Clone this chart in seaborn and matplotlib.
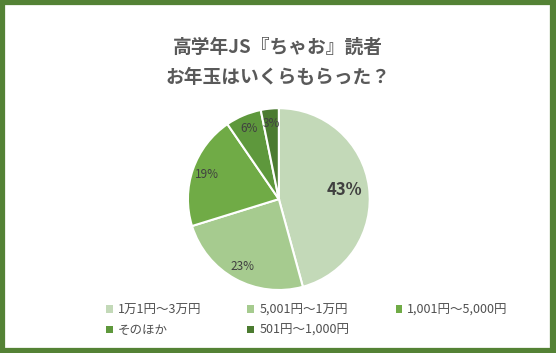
import numpy as np
import matplotlib
matplotlib.use("Agg")
import matplotlib.pyplot as plt
from matplotlib.patches import Patch, Rectangle
import seaborn as sns

# data
labels = ["1万1円～3万円", "5,001円～1万円", "1,001円～5,000円", "そのほか", "501円～1,000円"]
values = [43, 23, 19, 6, 3]
colors = ["#c3d9b8", "#a6cb8f", "#70ab46", "#5e983c", "#4b7b30"]
title = "高学年JS『ちゃお』読者\nお年玉はいくらもらった？"

sns.set_theme(style="white")
plt.rcParams['font.family'] = ['Noto Sans CJK JP', 'DejaVu Sans']

fig = plt.figure(figsize=(5.56, 3.53), dpi=100)
fig.patch.set_facecolor("white")

# green frame
fig.patches.append(Rectangle((0.004, 0.006), 0.990, 0.988, transform=fig.transFigure,
                             fill=False, edgecolor="#548235", linewidth=4.5))

fig.text(0.5, 0.823, title, ha="center", va="center", fontsize=13.5, fontweight="bold",
         color="#595959", linespacing=1.75)

ax = fig.add_axes([0.338, 0.178, 0.327, 0.516])
wedges, texts = ax.pie(values, colors=colors, startangle=90, counterclock=False,
                       wedgeprops=dict(edgecolor="white", linewidth=1.5),
                       labels=[f"{v}%" for v in values], labeldistance=0.84)
for i, t in enumerate(texts):
    t.set_ha("center")
    t.set_va("center")
    t.set_color("#404040")
    t.set_fontsize(8.5)
texts[0].set_fontsize(12)
texts[0].set_fontweight("bold")
x, y = texts[0].get_position()
texts[0].set_position((x * 0.87, y * 0.87))
ax.set_xlim(-1, 1)
ax.set_ylim(-1, 1)
ax.set_aspect("equal")

handles = [Patch(facecolor=c, edgecolor="none") for c in colors]
order = [0, 3, 1, 4, 2]
leg = fig.legend([handles[i] for i in order], [labels[i] for i in order],
                 loc="upper left", bbox_to_anchor=(0.17, 0.172), ncol=3, frameon=False,
                 fontsize=9, handlelength=0.55, handleheight=0.55, handletextpad=0.4,
                 columnspacing=3.7, labelspacing=0.6)
for t in leg.get_texts():
    t.set_color("#505050")

fig.savefig("out.png", dpi=100)
